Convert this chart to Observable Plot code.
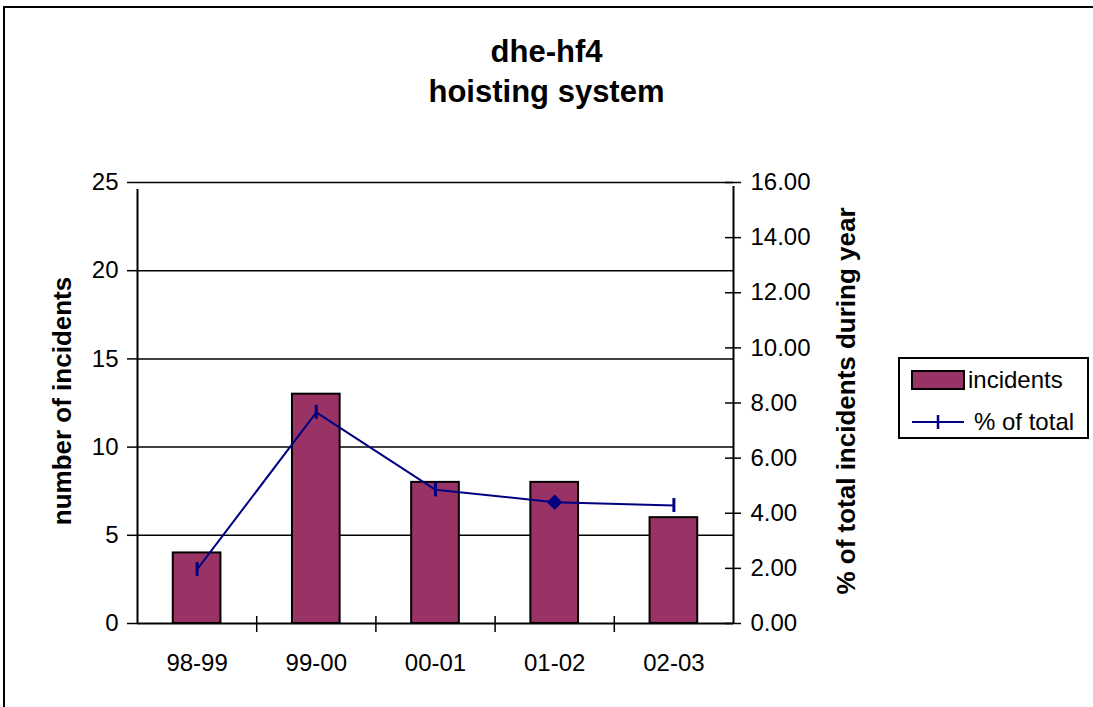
<!DOCTYPE html>
<html>
<head>
<meta charset="utf-8">
<script src="https://cdn.jsdelivr.net/npm/d3@7"></script>
<script src="https://cdn.jsdelivr.net/npm/@observablehq/plot@0.6"></script>
<style>
  html, body { margin: 0; padding: 0; background: #fff; }
  body { font-family: "Liberation Sans", Arial, sans-serif; }
  #wrap { position: relative; width: 1093px; height: 707px; overflow: hidden; background: #fff; }
  #border { position: absolute; left: 3px; top: 6px; right: -10px; bottom: -10px; border-left: 2px solid #000; border-top: 2px solid #000; }
  #title { position: absolute; left: 0; width: 1093px; top: 32px; text-align: center; font-weight: bold; font-size: 31px; line-height: 40px; color: #000; }
  .ytitle { position: absolute; white-space: nowrap; font-weight: bold; font-size: 26px; line-height: 26px; color: #000; transform: translate(-50%, -50%) rotate(-90deg); }
  #legend { position: absolute; left: 898px; top: 357px; width: 191px; height: 82px; border: 2px solid #000; box-sizing: border-box; background: #fff; }
  .lg-text { position: absolute; font-size: 24px; line-height: 24px; color: #000; white-space: nowrap; }
  #chart { position: absolute; left: 0; top: 0; }
</style>
</head>
<body>
<div id="wrap">
  <div id="chart"></div>
  <div id="border"></div>
  <div id="title">dhe-hf4<br>hoisting system</div>
  <div class="ytitle" style="left:62px; top:401px;">number of incidents</div>
  <div class="ytitle" style="left:846px; top:401px;">% of total incidents during year</div>
  <div id="legend">
    <svg width="70" height="78" style="position:absolute; left:0; top:0;">
      <rect x="12" y="12" width="52" height="18" fill="#993366" stroke="#000" stroke-width="2"></rect>
      <line x1="12" y1="63" x2="64" y2="63" stroke="#000080" stroke-width="2"></line>
      <line x1="38" y1="56" x2="38" y2="70" stroke="#000080" stroke-width="2.5"></line>
    </svg>
    <div class="lg-text" style="left:68px; top:9px;">incidents</div>
    <div class="lg-text" style="left:74px; top:51px;">% of total</div>
  </div>
</div>
<script>
// ---- data ----
const years = ["98-99", "99-00", "00-01", "01-02", "02-03"];
const incidents = [4, 13, 8, 8, 6];
const pctOfTotal = [1.96, 7.66, 4.85, 4.40, 4.28];
const markerShape = ["tick", "tick", "tick", "diamond", "tick"];
const leftTicks = [0, 5, 10, 15, 20, 25];
const rightTicks = [0, 2, 4, 6, 8, 10, 12, 14, 16];
const leftMax = 25, rightMax = 16;

const toLeft = p => p * leftMax / rightMax;

const data = years.map((y, i) => ({
  year: y, idx: i, incidents: incidents[i], pct: pctOfTotal[i], marker: markerShape[i]
}));

const font = "'Liberation Sans', Arial, sans-serif";

const plot = Plot.plot({
  width: 1093,
  height: 707,
  marginLeft: 137,
  marginRight: 360,
  marginTop: 182,
  marginBottom: 84,
  style: { fontFamily: font, color: "#000", background: "transparent", overflow: "visible" },
  x: { type: "linear", domain: [0, years.length], axis: null },
  y: { type: "linear", domain: [0, leftMax], axis: null },
  marks: [
    // horizontal gridlines
    Plot.ruleY(leftTicks.filter(t => t > 0), { stroke: "#000", strokeWidth: 1.5 }),
    // bars
    Plot.rectY(data, {
      x1: d => d.idx + 0.3, x2: d => d.idx + 0.7, y1: 0, y2: "incidents",
      fill: "#993366", stroke: "#000", strokeWidth: 2
    }),
    // axis lines
    Plot.ruleY([0], { stroke: "#000", strokeWidth: 2 }),
    Plot.ruleX([0], { y1: 0, y2: leftMax, stroke: "#000", strokeWidth: 2, insetBottom: -7 }),
    Plot.ruleX([years.length], { y1: 0, y2: leftMax, stroke: "#000", strokeWidth: 2, insetBottom: -4 }),
    // left axis
    Plot.axisY({
      anchor: "left", ticks: leftTicks, tickSize: 10, tickPadding: 9,
      fontSize: 24, label: null, strokeWidth: 1.5
    }),
    // right axis (percent)
    Plot.axisY({
      anchor: "right", ticks: rightTicks.map(toLeft), tickSize: 16, dx: -9, tickPadding: 10,
      tickFormat: v => (v * rightMax / leftMax).toFixed(2),
      fontSize: 24, label: null, strokeWidth: 1.5
    }),
    // x category labels
    Plot.axisX({
      ticks: years.map((y, i) => i + 0.5), tickSize: 0, tickPadding: 30,
      tickFormat: v => years[Math.floor(v)], fontSize: 24, label: null
    }),
    // x category boundary ticks
    Plot.axisX({
      ticks: d3.range(1, years.length), tickSize: 16, dy: -7,
      tickFormat: () => "", label: null, strokeWidth: 1.5
    }),
    // percent line
    Plot.line(data, {
      x: d => d.idx + 0.5, y: d => toLeft(d.pct),
      stroke: "#000080", strokeWidth: 2
    }),
    Plot.ruleX(data.filter(d => d.marker === "tick"), {
      x: d => d.idx + 0.5, y1: d => toLeft(d.pct), y2: d => toLeft(d.pct),
      insetTop: -7, insetBottom: -7, stroke: "#000080", strokeWidth: 3
    }),
    Plot.dot(data.filter(d => d.marker === "diamond"), {
      x: d => d.idx + 0.5, y: d => toLeft(d.pct),
      symbol: "diamond2", r: 6, fill: "#000080", stroke: "#000080"
    })
  ]
});

document.getElementById("chart").appendChild(plot);
</script>
</body>
</html>
